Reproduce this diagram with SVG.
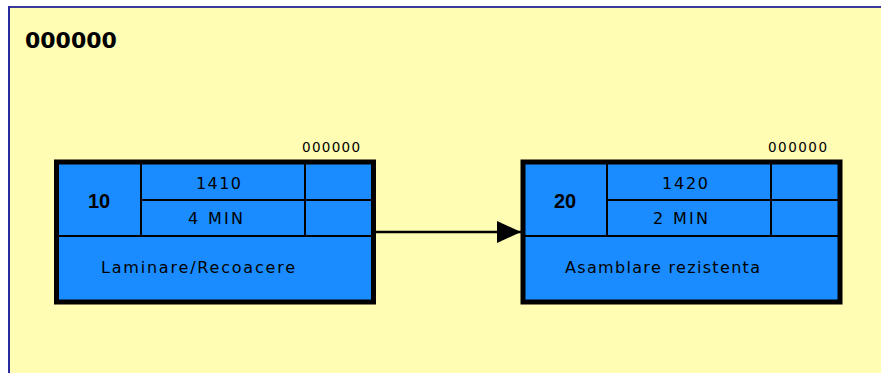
<svg xmlns="http://www.w3.org/2000/svg" width="881" height="373" viewBox="0 0 881 373">
<defs>
<style>
.box{fill:#1A8CFF;stroke:#000;stroke-width:5}
.div{stroke:#000;stroke-width:2;fill:none}
.num{font-family:"Liberation Sans",Arial,sans-serif;font-weight:bold;font-size:20px;fill:#000;text-anchor:middle}
.cell{font-family:"DejaVu Sans",Verdana,sans-serif;font-size:16px;fill:#000}
.lbl{font-family:"DejaVu Sans",Verdana,sans-serif;font-size:13.5px;fill:#000}
</style>
<marker id="ah" viewBox="0 0 24 22" refX="24" refY="11" markerWidth="24" markerHeight="22" markerUnits="userSpaceOnUse" orient="auto">
<path d="M0,0 L24,11 L0,22 Z" fill="#000"/>
</marker>
</defs>
<rect x="0" y="0" width="881" height="373" fill="#fff"/>
<rect x="9" y="7.5" width="880" height="370" fill="#FFFCB3"/>
<line x1="9" y1="7" x2="881" y2="7" stroke="#3A3A9A" stroke-width="2"/>
<line x1="9" y1="6" x2="9" y2="373" stroke="#2A2AA0" stroke-width="2"/>
<text x="25" y="48" font-family="DejaVu Sans,Verdana,sans-serif" font-weight="bold" font-size="22" fill="#000">000000</text>
<g id="connectors">
<line x1="376" y1="232" x2="521" y2="232" stroke="#000" stroke-width="2.5" marker-end="url(#ah)"/>
</g>
<g id="node10">
<text class="lbl" x="302" y="152" textLength="58" lengthAdjust="spacing">000000</text>
<rect class="box" x="56.5" y="162" width="317" height="140"/>
<line class="div" x1="141" y1="164" x2="141" y2="236"/>
<line class="div" x1="305" y1="164" x2="305" y2="236"/>
<line class="div" x1="141" y1="200" x2="371" y2="200"/>
<line class="div" x1="59" y1="236" x2="371" y2="236"/>
<text class="num" x="99" y="208">10</text>
<text class="cell" x="196" y="188.5" textLength="45" lengthAdjust="spacing">1410</text>
<text class="cell" x="188" y="223.5" textLength="55" lengthAdjust="spacing">4 MIN</text>
<text class="cell" x="101" y="273" textLength="194" lengthAdjust="spacing">Laminare/Recoacere</text>
</g>
<g id="node20">
<text class="lbl" x="768" y="152" textLength="59" lengthAdjust="spacing">000000</text>
<rect class="box" x="523" y="162" width="317" height="140"/>
<line class="div" x1="607" y1="164" x2="607" y2="236"/>
<line class="div" x1="771" y1="164" x2="771" y2="236"/>
<line class="div" x1="607" y1="200" x2="838" y2="200"/>
<line class="div" x1="525" y1="236" x2="838" y2="236"/>
<text class="num" x="565" y="208">20</text>
<text class="cell" x="662" y="188.5" textLength="46" lengthAdjust="spacing">1420</text>
<text class="cell" x="653" y="223.5" textLength="55" lengthAdjust="spacing">2 MIN</text>
<text class="cell" x="565" y="273" textLength="195" lengthAdjust="spacing">Asamblare rezistenta</text>
</g>
</svg>
